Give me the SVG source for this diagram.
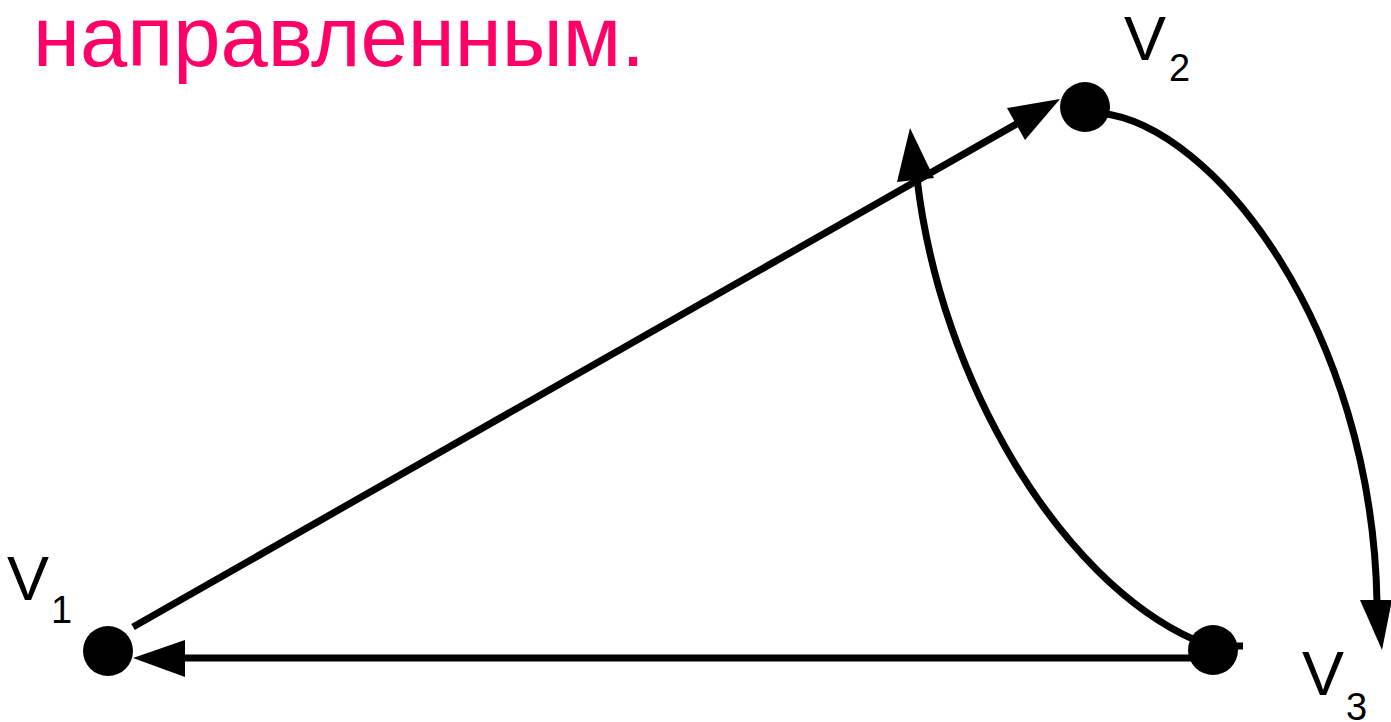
<svg xmlns="http://www.w3.org/2000/svg" width="1391" height="722" viewBox="0 0 1391 722">
<style>
.edge{fill:none;stroke:#000;stroke-width:7}
.node{fill:#000}
.lbl{font-family:"Liberation Sans",Arial,sans-serif;fill:#000}
.sub{font-size:38px}
.title{font-family:"Liberation Sans",Arial,sans-serif;fill:#FF0066;font-size:85px}
</style>
<rect width="1391" height="722" fill="#fff"/>
<text class="title" x="33" y="66">направленным.</text>
<g id="connectors">
  <line class="edge" x1="133" y1="627" x2="1020" y2="122"/>
  <polygon points="1060,99 1007,108 1025,140" fill="#000"/>
  <path class="edge" d="M1100,113 C1215,125 1372,330 1377,602"/>
  <polygon points="1382,650 1360,600 1392,600" fill="#000"/>
  <line class="edge" x1="1212" y1="658" x2="180" y2="658"/>
  <polygon points="133,658 185,640 185,677" fill="#000"/>
  <path class="edge" d="M1195,640 C1060,580 940,380 917,178"/>
  <polygon points="910,128 897,182 934,178" fill="#000"/>
  <line x1="1225" y1="646" x2="1243" y2="646" stroke="#000" stroke-width="7"/>
</g>
<g id="v1">
  <circle class="node" cx="108" cy="651" r="25"/>
  <text class="lbl" x="7" y="600" font-size="63">V</text>
  <text class="lbl sub" x="51" y="623">1</text>
</g>
<g id="v2">
  <circle class="node" cx="1085" cy="107" r="25"/>
  <text class="lbl" x="1124" y="60" font-size="63">V</text>
  <text class="lbl sub" x="1169" y="81">2</text>
</g>
<g id="v3">
  <circle class="node" cx="1213" cy="650" r="25"/>
  <text class="lbl" x="1302" y="695" font-size="63">V</text>
  <text class="lbl sub" x="1346" y="720">3</text>
</g>
</svg>
